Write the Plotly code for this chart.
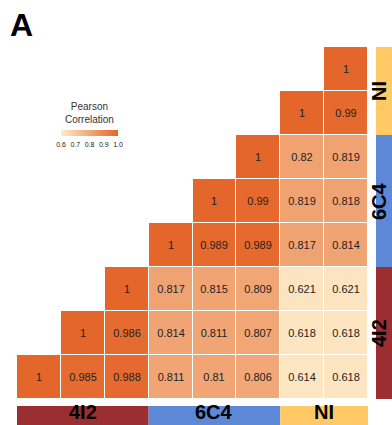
import plotly.graph_objects as go

# Samples in plotting order and the group each one belongs to
samples = ["4I2_1", "4I2_2", "4I2_3", "6C4_1", "6C4_2", "6C4_3", "NI_1", "NI_2"]
groups = ["4I2", "6C4", "NI"]
group_members = {"4I2": [0, 1, 2], "6C4": [3, 4, 5], "NI": [6, 7]}
group_colors = {"4I2": "#9B2E31", "6C4": "#5D87D7", "NI": "#FFC966"}

# Upper-triangle Pearson correlations: row r holds corr(sample r, sample c) for c >= r
corr_rows = [
    [1, 0.985, 0.988, 0.811, 0.81, 0.806, 0.614, 0.618],
    [1, 0.986, 0.814, 0.811, 0.807, 0.618, 0.618],
    [1, 0.817, 0.815, 0.809, 0.621, 0.621],
    [1, 0.989, 0.989, 0.817, 0.814],
    [1, 0.99, 0.819, 0.818],
    [1, 0.82, 0.819],
    [1, 0.99],
    [1],
]

colorbar_ticks = [0.6, 0.7, 0.8, 0.9, 1.0]
colorbar_ticktext = ["0.6", "0.7", "0.8", "0.9", "1.0"]

FONT = "Liberation Sans, Arial"

n = len(samples)
z = []
text = []
for r, row in enumerate(corr_rows):
    zr = [None] * r + list(row)
    z.append(zr)
    text.append(["" if v is None else f"{v:g}" for v in zr])

fig = go.Figure()
fig.add_trace(go.Heatmap(
    z=z,
    x=list(range(n)),
    y=list(range(n)),
    text=text,
    texttemplate="%{text}",
    textfont=dict(family=FONT, size=11, color="#222222"),
    zmin=0.6, zmax=1.0,
    colorscale=[[0.0, "#FEEBC8"], [1.0, "#E5662A"]],
    xgap=1, ygap=1,
    hoverongaps=False,
    colorbar=dict(
        orientation="h",
        x=89.5 / 392, xanchor="center",
        y=1 - 130 / 425, yanchor="top",
        len=57, lenmode="pixels",
        thickness=6,
        outlinewidth=0,
        xpad=0, ypad=0,
        ticks="outside", ticklen=3, tickcolor="rgba(0,0,0,0)",
        tickvals=colorbar_ticks,
        ticktext=colorbar_ticktext,
        tickfont=dict(family=FONT, size=7, color="#222222"),
    ),
))

shapes = []
annotations = []
for g in groups:
    idx = group_members[g]
    lo, hi = min(idx) - 0.5, max(idx) + 0.5
    mid = (min(idx) + max(idx)) / 2
    # bottom group bar
    shapes.append(dict(type="rect", xref="x", yref="paper",
                       x0=lo, x1=hi, y0=-0.02, y1=1 - 406 / 425,
                       fillcolor=group_colors[g], line=dict(width=0), layer="below"))
    annotations.append(dict(x=mid, y=0, xref="x", yref="paper",
                            text=g, showarrow=False, xanchor="center", yanchor="bottom",
                            font=dict(family=FONT, size=20, color="black", weight=700)))
    # right group bar
    shapes.append(dict(type="rect", xref="paper", yref="y",
                       x0=376 / 392, x1=1.02, y0=lo, y1=hi,
                       fillcolor=group_colors[g], line=dict(width=0), layer="below"))
    annotations.append(dict(x=1, y=mid, xref="paper", yref="y",
                            text=g, showarrow=False, textangle=-90,
                            xanchor="right", yanchor="middle",
                            font=dict(family=FONT, size=20, color="black", weight=700)))

# colour-scale title
annotations.append(dict(x=89.5 / 392, y=1 - 127 / 425, xref="paper", yref="paper",
                        text="Pearson<br>Correlation", showarrow=False,
                        xanchor="center", yanchor="bottom",
                        font=dict(family=FONT, size=10, color="#333333")))

# panel letter
annotations.append(dict(x=8 / 392, y=1 - 5 / 425, xref="paper", yref="paper",
                        text="A", showarrow=False, xanchor="left", yanchor="top",
                        font=dict(family=FONT, size=32, color="black", weight=700)))

fig.update_layout(
    width=392, height=425,
    margin=dict(l=0, r=0, t=0, b=0),
    paper_bgcolor="white",
    plot_bgcolor="white",
    shapes=shapes,
    annotations=annotations,
    xaxis=dict(domain=[17 / 392, 368 / 392], range=[-0.5, n - 0.5],
               showticklabels=False, showgrid=False, zeroline=False, fixedrange=True),
    yaxis=dict(domain=[1 - 399 / 425, 1 - 47 / 425], range=[-0.5, n - 0.5],
               showticklabels=False, showgrid=False, zeroline=False, fixedrange=True),
)

fig.write_html("out.html")
